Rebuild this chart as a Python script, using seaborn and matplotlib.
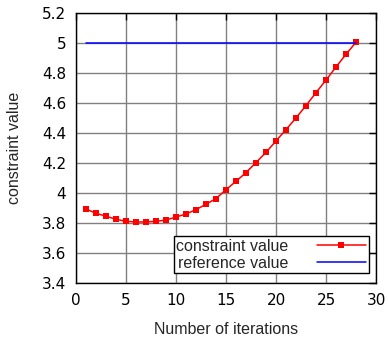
import matplotlib
matplotlib.use("Agg")
import matplotlib.pyplot as plt
import seaborn as sns
import pandas as pd

iterations = list(range(1, 29))
constraint_values = [3.893, 3.865, 3.845, 3.825, 3.811, 3.807, 3.807, 3.811, 3.820, 3.840,
                     3.860, 3.889, 3.925, 3.963, 4.022, 4.078, 4.136, 4.203, 4.271, 4.347,
                     4.423, 4.500, 4.583, 4.669, 4.753, 4.840, 4.925, 5.005]
reference_values = [5.0] * len(iterations)
x_ticks = [0, 5, 10, 15, 20, 25, 30]
y_ticks = [3.4, 3.6, 3.8, 4.0, 4.2, 4.4, 4.6, 4.8, 5.0, 5.2]

sns.set_style("white")
plt.rcParams['font.family'] = ['DejaVu Sans']

df = pd.DataFrame({"iter": iterations, "constraint": constraint_values, "reference": reference_values})

fig = plt.figure(figsize=(3.88, 3.39), dpi=100)
ax = fig.add_axes([76/388, (339-283)/339, 300/388, 270/339])

sns.lineplot(data=df, x="iter", y="constraint", ax=ax, color="#ff0000", marker="s",
             markersize=4.5, markeredgewidth=0, linewidth=1.1, label="constraint value", zorder=3)
sns.lineplot(data=df, x="iter", y="reference", ax=ax, color="#0000ff", linewidth=1.1,
             label="reference value", zorder=3)

ax.set_xlim(0, 30)
ax.set_ylim(3.4, 5.2)
ax.set_xticks(x_ticks)
ax.set_yticks(y_ticks)
ax.set_xticklabels([f"{v:g}" for v in x_ticks], fontsize=11)
ax.set_yticklabels([f"{v:g}" for v in y_ticks], fontsize=11)
ax.grid(True, color="#808080", linewidth=1.0, linestyle="-")
ax.set_axisbelow(True)
for s in ax.spines.values():
    s.set_color("black")
    s.set_linewidth(1.0)
ax.tick_params(direction="in", length=5, width=1, top=True, right=True, pad=7, colors="black")

label_font = {"family": "Liberation Sans", "size": 11.5}
ax.set_xlabel("Number of iterations", fontdict=label_font, labelpad=10)
ax.set_ylabel("constraint value", fontdict=label_font, labelpad=14)

leg = ax.legend(loc="lower right", bbox_to_anchor=(0.975, 0.037), borderaxespad=0,
                markerfirst=False, handlelength=3.1, frameon=True, fancybox=False,
                prop={"family": "Liberation Sans", "size": 11.5}, borderpad=0.15,
                labelspacing=0.12, handletextpad=1.75, framealpha=1)
leg.get_frame().set_edgecolor("black")
leg.get_frame().set_linewidth(1.0)

fig.savefig("out.png", dpi=100)
